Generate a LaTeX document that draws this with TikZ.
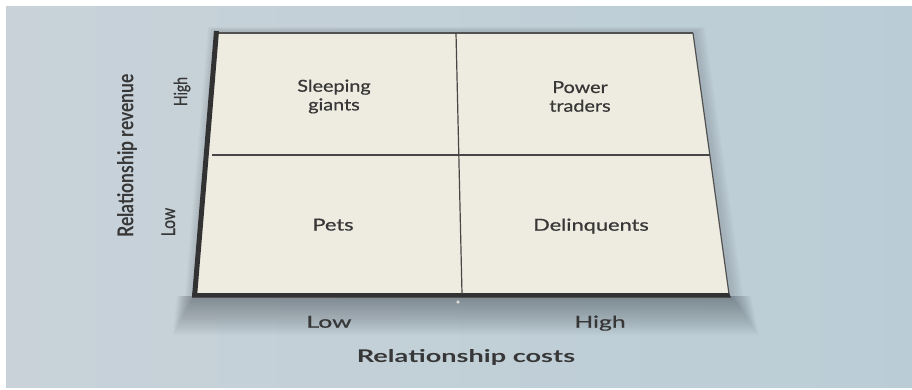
\documentclass[tikz,border=0pt]{standalone}
\usepackage{fontspec}
\setmainfont{Lato}
\newfontfamily\lblfont{Lato}[FakeBold=0.6]
\definecolor{bgA}{RGB}{201,210,217}
\definecolor{bgB}{RGB}{186,205,214}
\definecolor{paper}{RGB}{238,235,224}
\definecolor{ink}{RGB}{55,55,55}
\definecolor{edge}{RGB}{50,50,50}
\definecolor{shadowc}{RGB}{60,66,72}
\begin{document}
\begin{tikzpicture}[x=1pt,y=-1pt,
  lbl/.style={text=ink, font=\lblfont\fontsize{16.5}{18.7}\selectfont, align=center, inner sep=0pt},
  axlab/.style={text=ink, font=\lblfont\fontsize{16.5}{19}\selectfont, inner sep=0pt},
  axtitle/.style={text=ink, font=\fontsize{17.5}{20}\bfseries\selectfont, inner sep=0pt},
  thinline/.style={draw=edge!90, line width=1.2pt},
]
\useasboundingbox (0,0) rectangle (912,389);
\fill[white] (0,0) rectangle (912,389);
\shade[left color=bgA, right color=bgB] (6,6) rectangle (912,387);

% corners
\coordinate (TL) at (218,33);
\coordinate (TR) at (693,33);
\coordinate (BR) at (729,294);
\coordinate (BL) at (196,294);
\coordinate (TM) at (456,33);
\coordinate (BM) at (462,294);
\coordinate (ML) at (212,155);
\coordinate (MR) at (710,155);

% soft halo around the board
\foreach \i in {1,...,8}
  \fill[shadowc, opacity=0.022] ({216-\i},{31-\i*0.5}) -- ({695+\i*1.2},{31-\i*0.5}) -- ({732+\i*1.4},296) -- ({193-\i},296) -- cycle;
% soft shadow below
\foreach \i in {0,...,19}
  \fill[shadowc, opacity=0.026] ({194-\i*0.9},296) -- ({730+\i*1.1},296) -- ({734+\i*1.3},{299+\i*1.9}) -- ({192-\i*1.0},{299+\i*1.9}) -- cycle;

% board
\fill[paper] (TL) -- (TR) -- (BR) -- (BL) -- cycle;
\draw[edge!85, line width=1.4pt] (TL) -- (TR);
\draw[edge!85, line width=1.2pt] (TR) -- (BR);
\draw[edge, line width=5pt] (216.5,31) -- (194.5,297);
\fill[edge] (192,293) -- (729,293) -- (731,297.5) -- (192,297.5) -- cycle;
\draw[thinline] (TM) -- (BM);
\draw[thinline] (ML) -- (MR);
\draw[gray!60, fill=white, line width=0.5pt] (458,302) circle (1.6);

% quadrant labels
\node[lbl, xscale=1.2] (sg) at (334,96.5) {Sleeping\\giants};
\node[lbl, xscale=1.2] (pt) at (580,96.5) {Power\\traders};
\node[lbl, anchor=base, xscale=1.32] (pe) at (333,230.5) {Pets};
\node[lbl, anchor=base, xscale=1.32] (de) at (591,230.7) {Delinquents};

% x axis
\node[axlab, anchor=base, xscale=1.5] (xl) at (329,327.7) {Low};
\node[axlab, anchor=base, xscale=1.5] (xh) at (600,327.7) {High};
\node[axtitle, anchor=base, xscale=1.55] (xt) at (466,362.7) {Relationship costs};

% y axis
\node[axlab, anchor=base, rotate=90, xscale=0.95, yscale=1.15] (yl) at (175,222) {Low};
\node[axlab, anchor=base, rotate=90, xscale=0.85, yscale=1.1] (yh) at (187,91.5) {High};
\node[axtitle, anchor=base, rotate=90, xscale=1.0, yscale=1.25] (yt) at (133.3,156) {Relationship revenue};
\end{tikzpicture}
\end{document}
